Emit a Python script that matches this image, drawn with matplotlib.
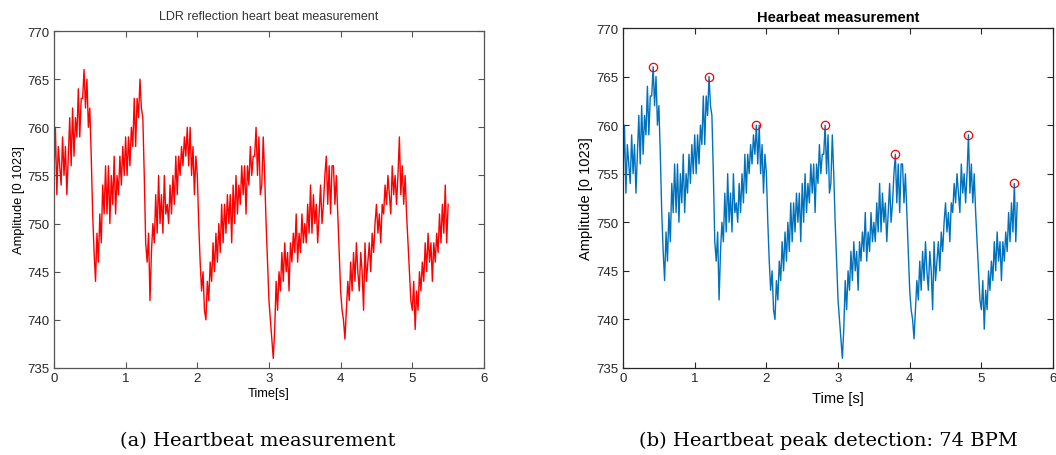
import numpy as np
import matplotlib
matplotlib.use('Agg')
import matplotlib.pyplot as plt

amplitude = [
    755, 760, 753, 758, 756,   754, 759, 755, 758, 753,
    757, 761, 756, 762, 757,   761, 759, 764, 759, 763,
    763, 766, 762, 765, 760,   762, 757, 751, 747, 744,
    749, 746, 751, 748, 754,   751, 756, 751, 756, 750,
    755, 752, 757, 751, 755,   753, 757, 754, 758, 755,
    759, 755, 759, 756, 760,   758, 763, 758, 763, 761,
    765, 762, 761, 755, 748,   746, 749, 742, 747, 750,
    748, 753, 749, 755, 750,   753, 749, 755, 751, 752,
    750, 754, 751, 755, 752,   757, 753, 757, 755, 758,
    756, 759, 757, 760, 756,   760, 755, 758, 753, 757,
    755, 750, 746, 743, 745,   741, 740, 744, 742, 746,
    744, 748, 745, 749, 746,   750, 747, 752, 748, 752,
    749, 753, 750, 753, 748,   754, 750, 755, 751, 754,
    752, 756, 753, 756, 751,   756, 754, 758, 755, 757,
    757, 760, 755, 759, 753,   754, 759, 755, 750, 746,
    742, 740, 738, 736, 739,   744, 741, 745, 743, 747,
    744, 748, 745, 747, 743,   748, 746, 749, 747, 751,
    746, 749, 747, 751, 748,   750, 748, 752, 749, 754,
    749, 753, 750, 752, 748,   751, 754, 750, 752, 755,
    757, 752, 756, 751, 756,   756, 752, 755, 751, 747,
    743, 741, 740, 738, 741,   744, 742, 746, 743, 747,
    744, 748, 745, 743, 747,   745, 741, 748, 744, 746,
    748, 745, 749, 747, 750,   752, 749, 751, 748, 752,
    751, 754, 752, 755, 753,   751, 756, 753, 755, 752,
    755, 759, 753, 756, 752,   755, 751, 748, 745, 742,
    741, 744, 739, 743, 741,   745, 743, 746, 744, 748,
    745, 749, 746, 748, 744,   748, 746, 749, 747, 751,
    748, 752, 749, 754, 748,   752,
]
dt = 0.02

# detected peaks (red circles)
peak_t = [0.42, 1.20, 1.86, 2.82, 3.80, 4.82, 5.46]
peak_v = [766, 765, 760, 760, 757, 759, 754]

t = np.arange(len(amplitude)) * dt

fig = plt.figure(figsize=(10.56, 4.56), dpi=100)
sans = ['Liberation Sans', 'DejaVu Sans']


def style_axes(ax, col, fs):
    ax.set_xlim(0, 6)
    ax.set_ylim(735, 770)
    ax.set_xticks(range(0, 7))
    ax.set_yticks(range(735, 771, 5))
    ax.tick_params(direction='in', top=True, right=True, length=4,
                   width=0.8, color=col, labelcolor='#262626',
                   labelsize=fs, pad=3)
    for s in ax.spines.values():
        s.set_color(col)
        s.set_linewidth(0.9)
    for lab in ax.get_xticklabels() + ax.get_yticklabels():
        lab.set_family(sans)


# (a) raw measurement
ax1 = fig.add_axes([0.0511, 0.1908, 0.4072, 0.739])
ax1.plot(t, amplitude, color='#ff0000', linewidth=1.0)
style_axes(ax1, '#555555', 9.5)
ax1.set_title('LDR reflection heart beat measurement', fontsize=9,
              family=sans, color='#333333', pad=9)
ax1.set_xlabel('Time[s]', fontsize=9.3, family=sans, labelpad=2)
ax1.set_ylabel('Amplitude [0 1023]', fontsize=9.3, family=sans, labelpad=2)

# (b) peak detection
ax2 = fig.add_axes([0.590, 0.1908, 0.4072, 0.7456])
ax2.plot(t, amplitude, color='#0072bd', linewidth=1.0)
ax2.plot(peak_t, peak_v, 'o', markerfacecolor='none',
         markeredgecolor='#ff0000', markersize=6, markeredgewidth=0.9)
style_axes(ax2, '#262626', 9.5)
ax2.set_title('Hearbeat measurement', fontsize=10.5, family=sans,
              fontweight='bold', pad=5)
ax2.set_xlabel('Time [s]', fontsize=10.5, family=sans, labelpad=5)
ax2.set_ylabel('Amplitude [0 1023]', fontsize=10.5, family=sans, labelpad=3)

fig.text(0.2443, 0.033, '(a) Heartbeat measurement', ha='center',
         va='center', fontsize=14, family=['DejaVu Serif'])
fig.text(0.784, 0.033, '(b) Heartbeat peak detection: 74 BPM',
         ha='center', va='center', fontsize=14, family=['DejaVu Serif'])

fig.savefig('out.png', dpi=100)
